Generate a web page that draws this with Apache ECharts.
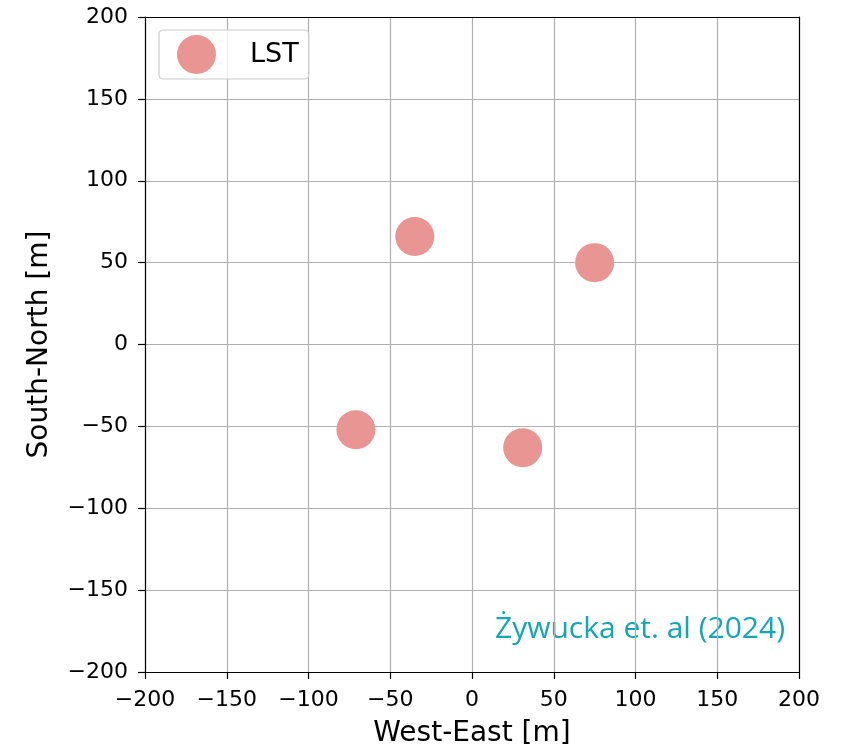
<!DOCTYPE html>
<html><head><meta charset="utf-8">
<script src="https://cdn.jsdelivr.net/npm/echarts@6/dist/echarts.min.js"></script>
<style>html,body{margin:0;padding:0;background:#fff}#c{width:843px;height:745px}</style>
</head><body><div id="c"></div>
<script>
var xVals = [-35, 75, -71, 31];
var yVals = [66, 50, -52, -63];
var seriesName = 'LST';
var annotation = 'Żywucka et. al (2024)';
var xTitle = 'West-East [m]';
var yTitle = 'South-North [m]';

var pts = xVals.map(function(x, i){ return [x, yVals[i]]; });
var fmt = function(v){ return String(v).replace('-', '\u2212'); };
function axisCommon(margin){
  return {
    type: 'value', min: -200, max: 200, interval: 50,
    axisLine: { show: true, onZero: false, lineStyle: { color: '#000', width: 1.2 } },
    axisTick: { show: true, length: 7, lineStyle: { color: '#000', width: 1.2 } },
    splitLine: { show: true, lineStyle: { color: '#b0b0b0', width: 1.2 } },
    axisLabel: { color: '#000', fontSize: 22, fontFamily: 'DejaVu Sans', formatter: fmt, margin: margin },
    nameTextStyle: { color: '#000', fontSize: 28, fontFamily: 'DejaVu Sans' },
    nameLocation: 'middle'
  };
}
function frameAxis(pos){
  return {
    type: 'value', min: -200, max: 200, interval: 50, position: pos,
    axisLine: { show: true, onZero: false, lineStyle: { color: '#000', width: 1.2 } },
    axisTick: { show: false }, axisLabel: { show: false }, splitLine: { show: false }
  };
}
var chart = echarts.init(document.getElementById('c'));
chart.setOption({
  animation: false,
  grid: { left: 145, right: 44, top: 17, bottom: 73, show: false,
          containLabel: false, outerBoundsMode: 'none' },
  xAxis: [Object.assign(axisCommon(17), { name: xTitle, nameGap: 48, position: 'bottom' }), frameAxis('top')],
  yAxis: [Object.assign(axisCommon(17), { name: yTitle, nameGap: 91, position: 'left' }), frameAxis('right')],
  legend: {
    left: 159, top: 30, orient: 'vertical',
    data: [{ name: seriesName, icon: 'circle' }],
    itemWidth: 39, itemHeight: 39, itemGap: 0,
    padding: [5, 10, 5, 18],
    borderColor: '#cccccc', borderWidth: 1.2, borderRadius: 4,
    backgroundColor: 'rgba(255,255,255,0.8)',
    textStyle: { fontSize: 27, fontFamily: 'DejaVu Sans', color: '#000', padding: [0, 0, 0, 29] }
  },
  series: [{
    name: seriesName, type: 'scatter', data: pts, symbolSize: 39,
    itemStyle: { color: '#e99594', opacity: 1 },
    z: 3
  }],
  graphic: [{
    type: 'text', right: 58, top: 614,
    style: { text: annotation, fill: '#13a6b5', fontSize: 30, fontFamily: 'Open Sans' }
  }]
});
</script></body></html>
